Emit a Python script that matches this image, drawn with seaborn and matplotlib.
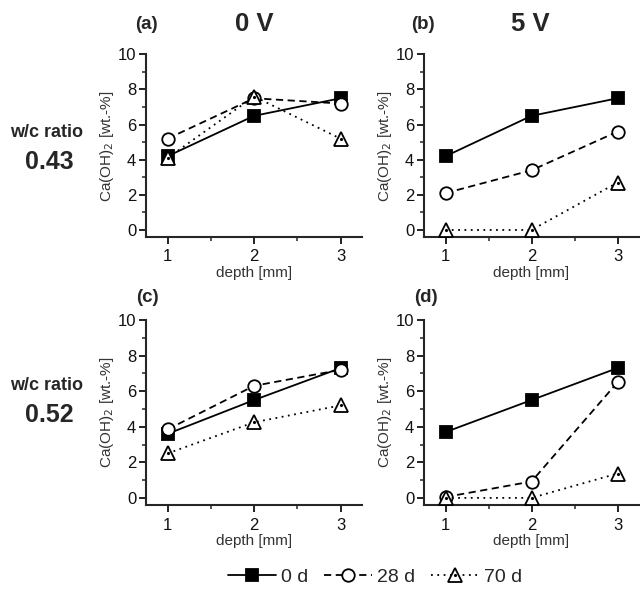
import numpy as np
import pandas as pd
import seaborn as sns
import matplotlib.pyplot as plt
from matplotlib.ticker import MultipleLocator
from matplotlib.legend_handler import HandlerTuple

sns.set_style('ticks')
plt.rcParams['font.family'] = ['Liberation Sans', 'DejaVu Sans']

# dados
depth = [1, 2, 3]
idades = ['0 d', '28 d', '70 d']

a_0d = [4.2, 6.5, 7.5]
a_28d = [5.2, 7.5, 7.2]
a_70d = [4.1, 7.6, 5.2]

b_0d = [4.2, 6.5, 7.5]
b_28d = [2.1, 3.4, 5.6]
b_70d = [0.0, 0.0, 2.7]

c_0d = [3.6, 5.5, 7.3]
c_28d = [3.85, 6.3, 7.2]
c_70d = [2.5, 4.25, 5.2]

d_0d = [3.7, 5.5, 7.3]
d_28d = [0.05, 0.92, 6.5]
d_70d = [0.0, 0.0, 1.37]

paineis = ['(a)', '(b)', '(c)', '(d)']
tensoes = ['0 V', '5 V']
razoes = ['0.43', '0.52']

dados = {
    '(a)': [a_0d, a_28d, a_70d],
    '(b)': [b_0d, b_28d, b_70d],
    '(c)': [c_0d, c_28d, c_70d],
    '(d)': [d_0d, d_28d, d_70d],
}

estilos = {
    '0 d': dict(linestyle='-', marker='s', markerfacecolor='black', markersize=9),
    '28 d': dict(linestyle=(0, (4, 2.5)), marker='o', markerfacecolor='white', markersize=9),
    '70 d': dict(linestyle=(0, (1, 2.5)), marker='^', markerfacecolor='white', markersize=10),
}

fig = plt.figure(figsize=(6.4, 5.91), dpi=100)
pos = {
    '(a)': [0.228, 0.599, 0.338, 0.309],
    '(b)': [0.6625, 0.599, 0.336, 0.309],
    '(c)': [0.228, 0.1455, 0.338, 0.313],
    '(d)': [0.6625, 0.1455, 0.336, 0.313],
}
# posicao das letras dos paineis
letra_xy = {'(a)': (0.229, 0.958), '(b)': (0.661, 0.958),
            '(c)': (0.231, 0.497), '(d)': (0.665, 0.497)}

handles = []
for p in paineis:
    ax = fig.add_axes(pos[p])
    for idade, vals in zip(idades, dados[p]):
        sns.lineplot(x=depth, y=vals, ax=ax, color='black', linewidth=1.3,
                     markeredgecolor='black', markeredgewidth=1.3,
                     clip_on=False, zorder=3, **estilos[idade])
        if idade == '70 d':
            ax.plot(depth, vals, linestyle='none', marker='.', markersize=2.5,
                    color='black', clip_on=False, zorder=4)
    ax.set_xlim(0.75, 3.25)
    ax.set_ylim(-0.4, 10)
    ax.set_xticks([1, 2, 3])
    ax.set_yticks([0, 2, 4, 6, 8, 10])
    ax.xaxis.set_minor_locator(MultipleLocator(0.5))
    ax.yaxis.set_minor_locator(MultipleLocator(1))
    ax.tick_params(which='major', direction='out', length=5, width=1.3,
                   labelsize=12, colors='#111')
    ax.tick_params(axis='x', which='major', pad=4)
    ax.tick_params(axis='y', which='major', pad=2)
    ax.tick_params(which='minor', direction='out', length=3, width=1.1)
    ax.spines['top'].set_visible(False)
    ax.spines['right'].set_visible(False)
    ax.spines['left'].set_bounds(-0.4, 10)
    for s in ['left', 'bottom']:
        ax.spines[s].set_linewidth(1.5)
    ax.set_xlabel('depth [mm]', fontsize=11, color='#333', labelpad=1)
    ax.set_ylabel('Ca(OH)$_2$ [wt.-%]', fontsize=11, color='#333', labelpad=1)
    fig.text(*letra_xy[p], p, fontsize=13.5, fontweight='bold', ha='center', va='center')
    if p == '(a)':
        handles = ax.get_lines()

# titulos de coluna
fig.text(0.398, 0.959, tensoes[0], fontsize=18.5, fontweight='bold', ha='center', va='center')
fig.text(0.828, 0.959, tensoes[1], fontsize=18.5, fontweight='bold', ha='center', va='center')

# razoes a/c
for yr, yv, r in [(0.775, 0.726, razoes[0]), (0.347, 0.297, razoes[1])]:
    fig.text(0.073, yr, 'w/c ratio', fontsize=13, fontweight='bold', ha='center', va='center')
    fig.text(0.077, yv, r, fontsize=18, fontweight='bold', ha='center', va='center')

# legenda
h0, h1, h2, h3 = handles[0], handles[1], handles[2], handles[3]
fig.legend([h0, h1, (h2, h3)], idades, loc='center', bbox_to_anchor=(0.586, 0.024),
           ncol=3, frameon=False, fontsize=14, handlelength=2.5, handletextpad=0.25,
           columnspacing=0.8, borderpad=0.2,
           handler_map={tuple: HandlerTuple(ndivide=1, pad=0)})

fig.savefig('out.png', dpi=100)
